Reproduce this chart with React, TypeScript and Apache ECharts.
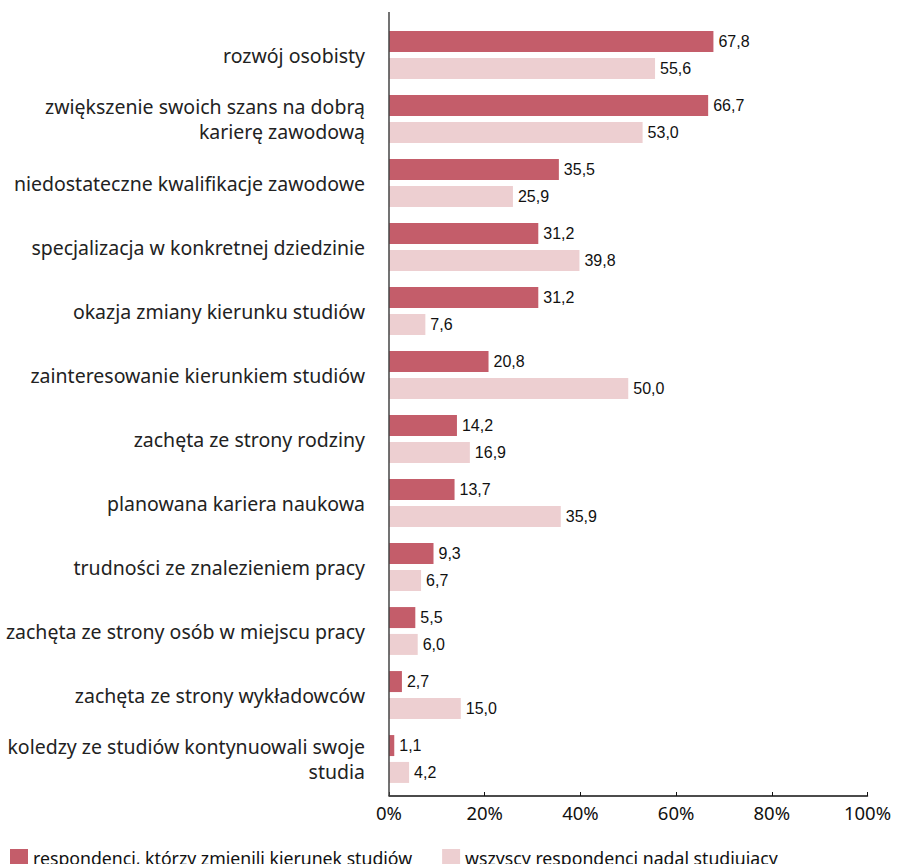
import React, { useEffect, useRef } from "react";
import * as echarts from "echarts";

const categories = [
  "rozwój osobisty",
  "zwiększenie swoich szans na dobrą\nkarierę zawodową",
  "niedostateczne kwalifikacje zawodowe",
  "specjalizacja w konkretnej dziedzinie",
  "okazja zmiany kierunku studiów",
  "zainteresowanie kierunkiem studiów",
  "zachęta ze strony rodziny",
  "planowana kariera naukowa",
  "trudności ze znalezieniem pracy",
  "zachęta ze strony osób w miejscu pracy",
  "zachęta ze strony wykładowców",
  "koledzy ze studiów kontynuowali swoje\nstudia",
];

const changedMajor = [67.8, 66.7, 35.5, 31.2, 31.2, 20.8, 14.2, 13.7, 9.3, 5.5, 2.7, 1.1];
const stillStudying = [55.6, 53.0, 25.9, 39.8, 7.6, 50.0, 16.9, 35.9, 6.7, 6.0, 15.0, 4.2];

const seriesNames = [
  "respondenci, którzy zmienili kierunek studiów",
  "wszyscy respondenci nadal studiujący",
];

const xTicks = { min: 0, max: 100, interval: 20 };

const DARK = "#C45D6A";
const LIGHT = "#EDCFD1";
const FONT = "'Noto Sans', sans-serif";
const VFONT = "'Liberation Sans', Arial, sans-serif";

export default function App() {
  const ref = useRef<HTMLDivElement>(null);
  useEffect(() => {
    if (!ref.current) return;
    const chart = echarts.init(ref.current, undefined, { renderer: "svg" });
    const valueLabel = {
      show: true,
      position: "right",
      distance: 5,
      color: "#111",
      fontSize: 16,
      fontFamily: VFONT,
      formatter: (p: any) => Number(p.value).toFixed(1).replace(".", ","),
    };
    chart.setOption({
      animation: false,
      backgroundColor: "#fff",
      grid: { left: 389, right: 33.5, top: 23, height: 768, containLabel: false },
      legend: {
        left: 5,
        top: 844,
        itemWidth: 18,
        itemHeight: 18,
        itemGap: 30,
        icon: "rect",
        textStyle: { fontFamily: FONT, fontSize: 17.7, color: "#111" },
        data: seriesNames,
      },
      xAxis: {
        type: "value",
        min: xTicks.min,
        max: xTicks.max,
        interval: xTicks.interval,
        offset: 5,
        axisLine: { show: true, lineStyle: { color: "#111", width: 1.5 } },
        axisTick: { show: true, inside: true, length: 4, lineStyle: { color: "#111" } },
        splitLine: { show: false },
        axisLabel: {
          formatter: "{value}%",
          fontFamily: FONT,
          fontSize: 18.5,
          color: "#111",
          margin: 7,
        },
      },
      yAxis: {
        type: "category",
        inverse: true,
        data: categories,
        axisLine: { show: false },
        axisTick: { show: false },
        axisLabel: {
          fontFamily: FONT,
          fontSize: 19.5,
          color: "#222",
          margin: 24,
          align: "right",
          lineHeight: 25,
        },
      },
      graphic: [
        {
          type: "line",
          shape: { x1: 389, y1: 12, x2: 389, y2: 796 },
          style: { stroke: "#444", lineWidth: 1.5 },
          z: 100,
        },
      ],
      series: [
        {
          name: seriesNames[0],
          type: "bar",
          data: changedMajor,
          barWidth: 21,
          barGap: "28%",
          itemStyle: { color: DARK },
          label: valueLabel,
        },
        {
          name: seriesNames[1],
          type: "bar",
          data: stillStudying,
          barWidth: 21,
          barGap: "28%",
          itemStyle: { color: LIGHT },
          label: valueLabel,
        },
      ],
    });
    return () => chart.dispose();
  }, []);
  return <div ref={ref} style={{ width: 901, height: 864, position: "absolute", left: 0, top: 0 }} />;
}
